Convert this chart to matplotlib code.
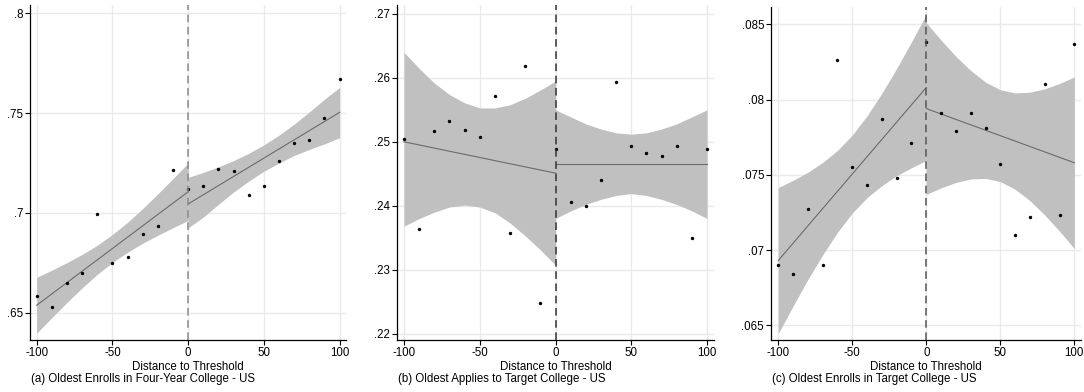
import numpy as np
import matplotlib.pyplot as plt

plt.rcParams['font.family'] = ['Liberation Sans', 'DejaVu Sans']

# bins of distance to threshold
x_bins = np.arange(-100, 101, 10)
x_left = np.arange(-100, 1, 10)
x_right = np.arange(0, 101, 10)

# (a) Oldest enrolls in four-year college
enroll4_pts = [0.6582, 0.6527, 0.6647, 0.6697, 0.6994, 0.6749, 0.6781, 0.6894, 0.6934, 0.7217,
               0.7118, 0.7135, 0.7220, 0.7208, 0.7088, 0.7136, 0.7262, 0.7349, 0.7365, 0.7474, 0.7671]
enroll4_fit_left = [0.6537, 0.7106]
enroll4_fit_right = [0.7045, 0.7504]
enroll4_ci_left_hi = [0.6677, 0.6713, 0.6751, 0.6792, 0.6838, 0.6892, 0.6953, 0.7022, 0.7096, 0.7172, 0.7250]
enroll4_ci_left_lo = [0.6397, 0.6475, 0.6551, 0.6624, 0.6692, 0.6752, 0.6803, 0.6848, 0.6888, 0.6926, 0.6962]
enroll4_ci_right_hi = [0.7178, 0.7203, 0.7231, 0.7262, 0.7299, 0.7341, 0.7390, 0.7445, 0.7506, 0.7570, 0.7629]
enroll4_ci_right_lo = [0.6925, 0.6979, 0.7043, 0.7105, 0.7159, 0.7209, 0.7250, 0.7288, 0.7318, 0.7346, 0.7377]

# (b) Oldest applies to target college
apply_pts = [0.2505, 0.2364, 0.2517, 0.2533, 0.2518, 0.2508, 0.2572, 0.2357, 0.2619, 0.2248,
             0.2488, 0.2406, 0.2400, 0.2440, 0.2594, 0.2493, 0.2482, 0.2478, 0.2493, 0.2349, 0.2488]
apply_fit_left = [0.2500, 0.2451]
apply_fit_right = [0.2465, 0.2465]
apply_ci_left_hi = [0.2640, 0.2615, 0.2592, 0.2574, 0.2561, 0.2553, 0.2553, 0.2558, 0.2568, 0.2581, 0.2595]
apply_ci_left_lo = [0.2368, 0.2380, 0.2390, 0.2398, 0.2401, 0.2398, 0.2389, 0.2373, 0.2353, 0.2331, 0.2307]
apply_ci_right_hi = [0.2550, 0.2539, 0.2528, 0.2520, 0.2514, 0.2512, 0.2514, 0.2520, 0.2528, 0.2539, 0.2550]
apply_ci_right_lo = [0.2380, 0.2392, 0.2402, 0.2410, 0.2416, 0.2419, 0.2416, 0.2410, 0.2402, 0.2392, 0.2380]

# (c) Oldest enrolls in target college
target_pts = [0.0690, 0.0684, 0.0727, 0.0690, 0.0826, 0.0755, 0.0743, 0.0787, 0.0748, 0.0771,
              0.0838, 0.0791, 0.0779, 0.0791, 0.0781, 0.0757, 0.0710, 0.0722, 0.0810, 0.0723, 0.0837]
target_fit_left = [0.0693, 0.0808]
target_fit_right = [0.0794, 0.0758]
target_ci_left_hi = [0.07415, 0.07463, 0.07517, 0.07582, 0.07662, 0.07764, 0.07892, 0.08042, 0.08207, 0.08383, 0.08565]
target_ci_left_lo = [0.06445, 0.06627, 0.06804, 0.06968, 0.07118, 0.07246, 0.07348, 0.07428, 0.07494, 0.07547, 0.07595]
target_ci_right_hi = [0.0851, 0.08395, 0.08287, 0.08193, 0.08116, 0.08065, 0.08044, 0.08049, 0.08071, 0.08107, 0.0815]
target_ci_right_lo = [0.0737, 0.07413, 0.07449, 0.07472, 0.07476, 0.07455, 0.07404, 0.07328, 0.07233, 0.07125, 0.0701]

W, H = 1084, 392
fig = plt.figure(figsize=(W / 100, H / 100), dpi=100)


def px_axes(l, t, r, b):
    return fig.add_axes([l / W, 1 - b / H, (r - l) / W, (b - t) / H])


def draw_panel(ax, pts, fit_l, fit_r, lo_l, hi_l, lo_r, hi_r, xlim, ylim, yticks, caption, dash_col, cap_x):
    ax.fill_between(x_left, lo_l, hi_l, color='#c0c0c0', lw=0, zorder=2)
    ax.fill_between(x_right, lo_r, hi_r, color='#c0c0c0', lw=0, zorder=2)
    ax.plot([-100, 0], fit_l, color='#6b6b6b', lw=0.8, zorder=3)
    ax.plot([0, 100], fit_r, color='#6b6b6b', lw=0.8, zorder=3)
    ax.scatter(x_bins, pts, s=6, color='black', lw=0, zorder=4)
    ax.axvline(0, color=dash_col, lw=1.1, ls=(0, (5, 3)), zorder=5)

    ax.set_xlim(xlim)
    ax.set_ylim(ylim)
    ax.set_xticks([-100, -50, 0, 50, 100])
    ax.set_xticklabels(['-100', '-50', '0', '50', '100'])
    ax.set_yticks(yticks)
    ax.set_yticklabels([f"{v:g}".lstrip('0') for v in yticks])
    ax.grid(True, color='#eaeaea', lw=1.0, zorder=0)
    ax.set_axisbelow(True)
    for s in ['top', 'right']:
        ax.spines[s].set_visible(False)
    for s in ['left', 'bottom']:
        ax.spines[s].set_color('black')
        ax.spines[s].set_linewidth(0.9)
    ax.tick_params(length=3.5, width=0.8, pad=1.5, labelsize=8.3, colors='black')
    ax.set_xlabel('Distance to Threshold', fontsize=8.3, labelpad=1.2)
    fig.text(cap_x / W, 1 - 379 / H, caption, fontsize=8.3, ha='left', va='center')


ax1 = px_axes(30, 5, 346, 340)
draw_panel(ax1, enroll4_pts, enroll4_fit_left, enroll4_fit_right,
           enroll4_ci_left_lo, enroll4_ci_left_hi, enroll4_ci_right_lo, enroll4_ci_right_hi,
           (-104.4, 104.2), (0.6363, 0.8042), [0.65, 0.7, 0.75, 0.8],
           '(a) Oldest Enrolls in Four-Year College - US', '#8a8a8a', 31)

ax2 = px_axes(397, 5, 714, 340)
draw_panel(ax2, apply_pts, apply_fit_left, apply_fit_right,
           apply_ci_left_lo, apply_ci_left_hi, apply_ci_right_lo, apply_ci_right_hi,
           (-104.6, 104.6), (0.2190, 0.2714), [0.22, 0.23, 0.24, 0.25, 0.26, 0.27],
           '(b) Oldest Applies to Target College - US', '#333333', 398)

ax3 = px_axes(771, 7, 1081, 340)
draw_panel(ax3, target_pts, target_fit_left, target_fit_right,
           target_ci_left_lo, target_ci_left_hi, target_ci_right_lo, target_ci_right_hi,
           (-104.9, 104.5), (0.06402, 0.08615), [0.065, 0.07, 0.075, 0.08, 0.085],
           '(c) Oldest Enrolls in Target College - US', '#555555', 772)

fig.savefig('out.png', dpi=100)
